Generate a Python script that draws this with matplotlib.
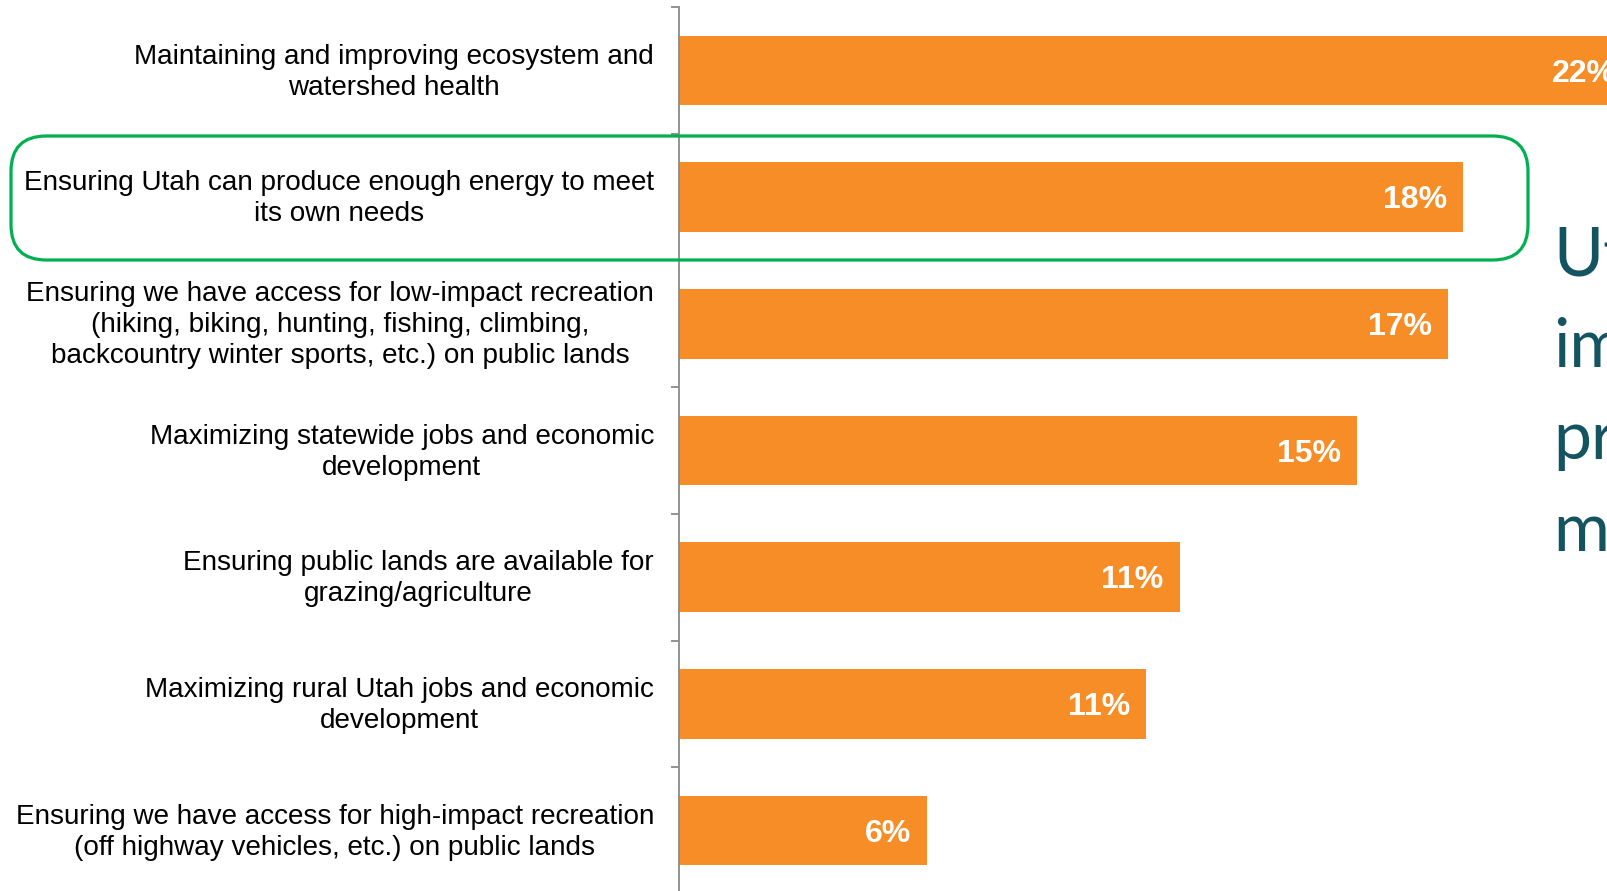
import numpy as np
import matplotlib.pyplot as plt
from matplotlib.patches import FancyBboxPatch

# survey shares, top to bottom
categories = [
    "Maintaining and improving ecosystem and\nwatershed health",
    "Ensuring Utah can produce enough energy to meet\nits own needs",
    "Ensuring we have access for low-impact recreation\n(hiking, biking, hunting, fishing, climbing,\nbackcountry winter sports, etc.) on public lands",
    "Maximizing statewide jobs and economic\ndevelopment",
    "Ensuring public lands are available for\ngrazing/agriculture",
    "Maximizing rural Utah jobs and economic\ndevelopment",
    "Ensuring we have access for high-impact recreation\n(off highway vehicles, etc.) on public lands",
]
shares = [21.52, 17.7, 17.35, 15.3, 11.3, 10.55, 5.6]
side_words = ["Utahns", "important", "priorities", "most"]

W, H = 1608, 891
fig = plt.figure(figsize=(W / 100, H / 100), dpi=100)
plt.rcParams['font.family'] = ['Liberation Sans', 'DejaVu Sans']

# axes in pixel terms: spine at x=679, rows 126.7 px tall starting at y=7
ax_left, ax_top, row_h = 679, 7, 126.7
ax_h = row_h * len(categories)
ax = fig.add_axes([ax_left / W, (H - ax_top - ax_h) / H, (W - ax_left) / W, ax_h / H])

px_per_unit = 44.3
ax.set_xlim(0, (W - ax_left) / px_per_unit)
y = np.arange(len(categories))
ax.set_ylim(len(categories) - 0.5, -0.5)

orange = '#F68D27'
ax.barh(y, shares, height=0.55, color=orange)
for yi, v in zip(y, shares):
    ax.text(v - 16 / px_per_unit, yi + 0.025, f"{v:.0f}%", ha='right', va='center',
            color='white', fontsize=23, fontweight='bold', clip_on=False)

for s in ['top', 'right', 'bottom']:
    ax.spines[s].set_visible(False)
ax.spines['left'].set_color('#8a8a8a')
ax.spines['left'].set_linewidth(1.3)
ax.set_xticks([])
# labels sit a touch above the bar centre
ax.set_yticks(y - 0.03)
ax.set_yticklabels(categories, fontsize=20.1, multialignment='center',
                   color='black', linespacing=1.25)
ax.tick_params(axis='y', which='major', length=0, pad=18)
ax.set_yticks(np.arange(-0.5, len(categories), 1.0), minor=True)
ax.tick_params(axis='y', which='minor', length=6, width=1.3, color='#8a8a8a', direction='out')

# highlight box around the energy row
box = FancyBboxPatch((11 / W, (H - 260) / H), (1528 - 11) / W, (260 - 136) / H,
                     boxstyle="round,pad=0,rounding_size=0.022",
                     transform=fig.transFigure, fill=False,
                     edgecolor='#00B050', linewidth=2.3, mutation_aspect=W / H)
fig.patches.append(box)

# side caption running off the right edge
for i, word in enumerate(side_words):
    fig.text(1553 / W, (H - 275 - 92 * i) / H, word, fontsize=49, color='#145461',
             family=['Lato', 'DejaVu Sans'], va='baseline', ha='left')

fig.savefig('out.png', dpi=100)
